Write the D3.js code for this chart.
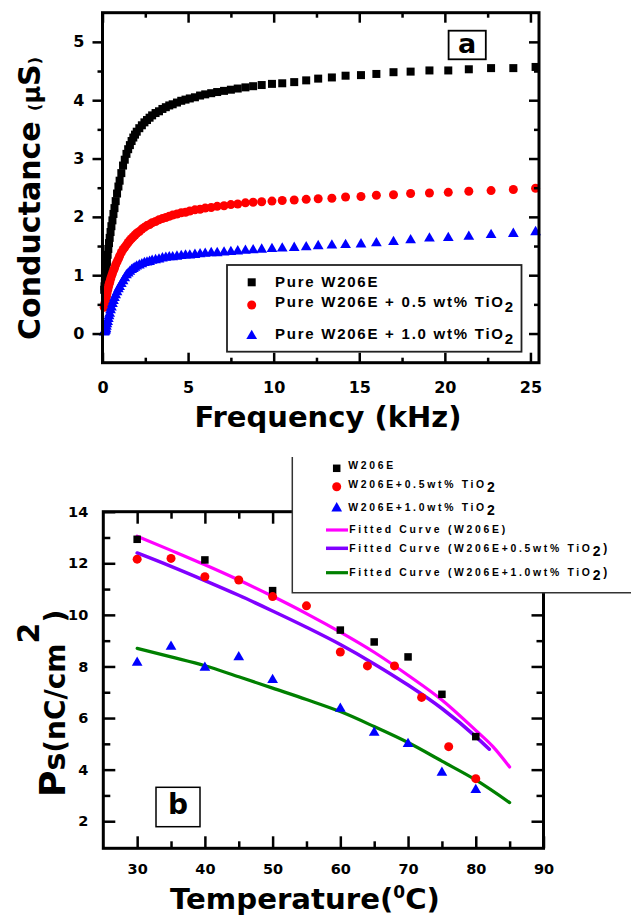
<!DOCTYPE html>
<html><head><meta charset="utf-8">
<script src="https://cdn.jsdelivr.net/npm/d3@7/dist/d3.min.js"></script>
<style>body{margin:0;background:#fff}svg{display:block}</style>
</head><body>
<svg id="c" width="631" height="917"></svg>
<script>
// ---------- DATA: panel a (conductance vs frequency) ----------
const freqKHz = [0.1,0.12,0.14,0.16,0.18,0.2,0.23,0.26,0.3,0.34,0.38,0.42,0.47,0.52,0.58,0.64,0.7,0.77,0.85,0.93,
  1.0,1.1,1.2,1.3,1.4,1.5,1.6,1.7,1.8,1.9,2.0,2.15,2.3,2.45,2.6,2.75,2.9,3.1,3.3,3.5,3.7,3.9,4.1,4.35,4.6,
  4.85,5.1,5.4,5.7,6.0,6.35,6.7,7.1,7.5,7.9,8.35,8.8,9.3,9.9,10.5,11.2,11.9,12.6,13.4,14.2,15.1,16.0,17.0,
  18.0,19.1,20.2,21.4,22.7,24.0,25.3];
const condPure = [0.75,0.81,0.87,0.93,0.99,1.05,1.14,1.23,1.35,1.45,1.55,1.64,1.74,1.84,1.94,2.05,2.15,2.27,2.4,2.52,
  2.62,2.75,2.88,2.98,3.08,3.16,3.23,3.3,3.36,3.41,3.46,3.52,3.57,3.62,3.66,3.7,3.74,3.78,3.81,3.85,3.88,3.91,3.93,3.96,3.99,
  4.01,4.03,4.05,4.08,4.1,4.12,4.14,4.16,4.18,4.2,4.22,4.24,4.26,4.28,4.29,4.31,4.34,4.37,4.39,4.42,4.43,4.45,4.48,
  4.49,4.51,4.51,4.53,4.55,4.55,4.57];
const condTi05 = [0.45,0.48,0.51,0.54,0.57,0.6,0.64,0.69,0.74,0.79,0.84,0.88,0.93,0.98,1.03,1.08,1.12,1.18,1.23,1.28,
  1.33,1.39,1.44,1.48,1.52,1.56,1.6,1.63,1.66,1.69,1.72,1.75,1.79,1.82,1.85,1.87,1.9,1.92,1.95,1.97,1.99,2.01,2.03,2.05,2.07,
  2.08,2.1,2.12,2.13,2.15,2.16,2.18,2.19,2.21,2.22,2.24,2.25,2.26,2.27,2.28,2.29,2.3,2.31,2.32,2.34,2.35,2.37,2.38,
  2.4,2.41,2.42,2.44,2.45,2.47,2.49];
const condTi10 = [0.02,0.03,0.04,0.05,0.06,0.08,0.12,0.16,0.2,0.25,0.3,0.34,0.4,0.45,0.51,0.56,0.61,0.66,0.71,0.76,
  0.8,0.85,0.9,0.95,1.0,1.03,1.06,1.09,1.11,1.13,1.15,1.17,1.19,1.21,1.22,1.23,1.25,1.26,1.27,1.29,1.3,1.31,1.31,1.32,1.33,
  1.34,1.34,1.35,1.36,1.37,1.38,1.38,1.39,1.4,1.41,1.42,1.43,1.44,1.45,1.46,1.47,1.48,1.5,1.51,1.52,1.53,1.55,1.57,
  1.6,1.63,1.64,1.66,1.69,1.71,1.74];
const freqTicks = [0,5,10,15,20,25];
const freqMinor = [2.5,7.5,12.5,17.5,22.5];
const condTicks = [0,1,2,3,4,5];
const condMinor = [0.5,1.5,2.5,3.5,4.5];
const legendA = ["Pure W206E","Pure W206E + 0.5 wt% TiO","Pure W206E + 1.0 wt% TiO"];

// ---------- DATA: panel b (Ps vs temperature) ----------
const tempW = [30,40,50,60,65,70,75,80];
const psW   = [12.93,12.13,10.94,9.41,8.95,8.37,6.92,5.28];
const tempT05 = [30,35,40,45,50,55,60,64,68,72,76,80];
const psT05   = [12.16,12.19,11.48,11.35,10.71,10.35,8.56,8.02,8.02,6.8,4.89,3.65];
const tempT10 = [30,35,40,45,50,60,65,70,75,80];
const psT10   = [8.15,8.77,7.95,8.36,7.48,6.36,5.43,5.0,3.88,3.21];
const fitTempW = [30,35,40,45,50,55,60,65,70,75,80,82.5,85];
const fitPsW   = [13.05,12.5,11.94,11.35,10.72,10.05,9.33,8.55,7.66,6.7,5.52,4.9,4.1];
const fitTempT05 = [30,35,40,45,50,55,60,65,70,75,80,82];
const fitPsT05   = [12.4,11.88,11.33,10.76,10.15,9.52,8.85,8.1,7.28,6.37,5.28,4.79];
const fitTempT10 = [30,35,40,45,50,55,60,65,70,75,80,85];
const fitPsT10   = [8.7,8.37,8.03,7.6,7.16,6.72,6.25,5.67,5.05,4.33,3.6,2.72];
const tempTicks = [30,40,50,60,70,80,90];
const tempMinor = [35,45,55,65,75,85];
const psTicks = [2,4,6,8,10,12,14];
const psMinor = [3,5,7,9,11,13];

// ---------- DRAW ----------
const FONT = "'DejaVu Sans', sans-serif";
const LFONT = "'Liberation Sans', Arial, sans-serif";
const svg = d3.select("#c");

function axis(gen, transform, fs) {
  const a = svg.append("g").attr("transform", transform).call(gen);
  a.select(".domain").remove();
  a.selectAll(".tick line").attr("stroke", "#000").attr("stroke-width", 2.5);
  a.selectAll(".tick text").attr("font-family", FONT).attr("font-weight", "bold")
    .attr("font-size", fs || 16).attr("fill", "#000");
  return a;
}
function marker(sel, type, size, color) {
  if (type === "square") {
    sel.append("rect").attr("x", -size/2).attr("y", -size/2).attr("width", size).attr("height", size).attr("fill", color);
  } else if (type === "circle") {
    sel.append("circle").attr("r", size/2).attr("fill", color);
  } else {
    sel.append("path").attr("d", d3.symbol(d3.symbolTriangle, size*size*0.5)()).attr("fill", color);
  }
}
function boldText(x, y, fs, fam) {
  return svg.append("text").attr("x", x).attr("y", y).attr("font-family", fam || FONT)
    .attr("font-weight", "bold").attr("font-size", fs).attr("fill", "#000");
}

// ===== Panel a =====
const xA = d3.scaleLinear().domain([0, 25.5]).range([102.5, 539]);
const yA = d3.scaleLinear().domain([-0.5, 5.5]).range([362.7, 12.7]);

const seriesA = [
  {vals: condPure, type: "square", size: 8, color: "#000"},
  {vals: condTi05, type: "circle", size: 9, color: "#ff0000"},
  {vals: condTi10, type: "triangle", size: 10, color: "#0000ff"}
];
seriesA.forEach(s => {
  svg.append("g").selectAll("g").data(freqKHz.map((f, i) => [f, s.vals[i]])).join("g")
    .attr("transform", d => `translate(${xA(d[0])},${yA(d[1])})`)
    .each(function() { marker(d3.select(this), s.type, s.size, s.color); });
});

axis(d3.axisBottom(xA).tickValues(freqTicks).tickSize(-10).tickPadding(19).tickFormat(d3.format("d")), "translate(0,362.7)", 16);
axis(d3.axisBottom(xA).tickValues(freqMinor).tickSize(-5).tickFormat(""), "translate(0,362.7)");
axis(d3.axisTop(xA).tickValues(freqTicks).tickSize(-10).tickFormat(""), "translate(0,12.7)");
axis(d3.axisTop(xA).tickValues(freqMinor).tickSize(-5).tickFormat(""), "translate(0,12.7)");
axis(d3.axisLeft(yA).tickValues(condTicks).tickSize(10).tickPadding(8).tickFormat(d3.format("d")), "translate(102.5,0)", 16);
axis(d3.axisLeft(yA).tickValues(condMinor).tickSize(5).tickFormat(""), "translate(102.5,0)");
axis(d3.axisRight(yA).tickValues(condTicks).tickSize(-10).tickFormat(""), "translate(539,0)");
axis(d3.axisRight(yA).tickValues(condMinor).tickSize(-5).tickFormat(""), "translate(539,0)");
svg.append("rect").attr("x", xA.range()[0]).attr("y", yA.range()[1])
  .attr("width", xA.range()[1]-xA.range()[0]).attr("height", yA.range()[0]-yA.range()[1])
  .attr("fill", "none").attr("stroke", "#000").attr("stroke-width", 3);

// legend a
svg.append("rect").attr("x", 227).attr("y", 265).attr("width", 294.5).attr("height", 86.7)
  .attr("fill", "#fff").attr("stroke", "#222").attr("stroke-width", 1.8);
const legAY = [282.3, 305, 336];
const legATextY = [287, 307, 339];
seriesA.forEach((s, i) => {
  const g = svg.append("g").attr("transform", `translate(251.7,${legAY[i]})`);
  marker(g, s.type, s.size, s.color);
  const t = boldText(275, legATextY[i], 15, LFONT).attr("letter-spacing", 1.75).text(legendA[i]);
  if (i > 0) t.append("tspan").attr("dy", 5).attr("font-size", 15).text("2");
});
// label a
svg.append("rect").attr("x", 448.6).attr("y", 30.7).attr("width", 37.2).attr("height", 28.6)
  .attr("fill", "#fff").attr("stroke", "#000").attr("stroke-width", 1.8);
boldText(467.2, 52.5, 27).attr("text-anchor", "middle").text("a");

// titles a
boldText(328, 427, 29).attr("text-anchor", "middle").text("Frequency (kHz)");
const yt = svg.append("text").attr("transform", "translate(40,340) rotate(-90)")
  .attr("font-family", FONT).attr("font-weight", "bold").attr("font-size", 30);
yt.append("tspan").text("Conductance ");
yt.append("tspan").attr("font-size", 16).text("(");
yt.append("tspan").attr("font-size", 24).text("μ");
yt.append("tspan").attr("font-size", 30).text("S");
yt.append("tspan").attr("font-size", 16).text(")");

// ===== Panel b =====
const xB = d3.scaleLinear().domain([25, 90]).range([103.3, 543.5]);
const yB = d3.scaleLinear().domain([0.95, 14]).range([848.3, 511.7]);

const line = d3.line().x(d => xB(d[0])).y(d => yB(d[1])).curve(d3.curveMonotoneX);
const fits = [
  {t: fitTempW, v: fitPsW, color: "#ff00ff", w: 3.2},
  {t: fitTempT05, v: fitPsT05, color: "#8000ff", w: 3.5},
  {t: fitTempT10, v: fitPsT10, color: "#008000", w: 3.2}
];
fits.forEach(f => {
  svg.append("path").attr("d", line(f.t.map((t, i) => [t, f.v[i]])))
    .attr("fill", "none").attr("stroke", f.color).attr("stroke-width", f.w).attr("stroke-linecap", "round");
});
const seriesB = [
  {t: tempW, v: psW, type: "square", size: 7.5, color: "#000"},
  {t: tempT05, v: psT05, type: "circle", size: 9, color: "#ff0000"},
  {t: tempT10, v: psT10, type: "triangle", size: 10, color: "#0000ff"}
];
seriesB.forEach(s => {
  svg.append("g").selectAll("g").data(s.t.map((t, i) => [t, s.v[i]])).join("g")
    .attr("transform", d => `translate(${xB(d[0])},${yB(d[1])})`)
    .each(function() { marker(d3.select(this), s.type, s.size, s.color); });
});

axis(d3.axisBottom(xB).tickValues(tempTicks).tickSize(-12).tickPadding(15).tickFormat(d3.format("d")), "translate(0,848.3)", 14.5);
axis(d3.axisBottom(xB).tickValues(tempMinor).tickSize(-7).tickFormat(""), "translate(0,848.3)");
axis(d3.axisTop(xB).tickValues(tempTicks).tickSize(-12).tickFormat(""), "translate(0,511.7)");
axis(d3.axisTop(xB).tickValues(tempMinor).tickSize(-7).tickFormat(""), "translate(0,511.7)");
axis(d3.axisLeft(yB).tickValues(psTicks).tickSize(-12).tickPadding(15).tickFormat(d3.format("d")), "translate(103.3,0)", 14.5);
axis(d3.axisLeft(yB).tickValues(psMinor).tickSize(-7).tickFormat(""), "translate(103.3,0)");
axis(d3.axisRight(yB).tickValues(psTicks).tickSize(-12).tickFormat(""), "translate(543.5,0)");
axis(d3.axisRight(yB).tickValues(psMinor).tickSize(-7).tickFormat(""), "translate(543.5,0)");
svg.append("rect").attr("x", xB.range()[0]).attr("y", yB.range()[1])
  .attr("width", xB.range()[1]-xB.range()[0]).attr("height", yB.range()[0]-yB.range()[1])
  .attr("fill", "none").attr("stroke", "#000").attr("stroke-width", 3);

// legend b (cropped box: only left and bottom edges visible)
svg.append("rect").attr("x", 292.3).attr("y", 452).attr("width", 345).attr("height", 140.7).attr("fill", "#fff");
svg.append("path").attr("d", "M292.3,457V592.7H631").attr("fill", "none").attr("stroke", "#333").attr("stroke-width", 1.5);
const legBMarkY = [468.3, 486.7, 508.3];
const legBTextY = [469.3, 488.3, 511];
const legBText = ["W206E", "W206E+0.5wt% TiO", "W206E+1.0wt% TiO"];
seriesB.forEach((s, i) => {
  const g = svg.append("g").attr("transform", `translate(336.7,${legBMarkY[i]})`);
  marker(g, s.type, s.size, s.color);
  const t = boldText(348.3, legBTextY[i], 10.4, LFONT).attr("letter-spacing", 2.7).text(legBText[i]);
  if (i > 0) t.append("tspan").attr("dy", 4).attr("font-size", 14).text("2");
});
const legBLineY = [530, 548.3, 572.7];
const legBLineText = [["Fitted Curve (W206E)", false], ["Fitted Curve (W206E+0.5wt% TiO", true], ["Fitted Curve (W206E+1.0wt% TiO", true]];
fits.forEach((f, i) => {
  svg.append("line").attr("x1", 326).attr("x2", 348).attr("y1", legBLineY[i]).attr("y2", legBLineY[i])
    .attr("stroke", f.color).attr("stroke-width", f.w);
  const t = boldText(349.3, legBLineY[i] + 3.3, 10.4, LFONT).attr("letter-spacing", 2.7).text(legBLineText[i][0]);
  if (legBLineText[i][1]) {
    t.append("tspan").attr("dy", 4).attr("font-size", 14).text("2");
    t.append("tspan").attr("dy", -4).attr("font-size", 12).text(")");
  }
});

// label b
svg.append("rect").attr("x", 156).attr("y", 787.3).attr("width", 44).attr("height", 39.4)
  .attr("fill", "#fff").attr("stroke", "#000").attr("stroke-width", 1.5);
boldText(178, 813.5, 28).attr("text-anchor", "middle").text("b");

// titles b
const xt = boldText(170, 908.5, 29.2);
xt.append("tspan").text("Temperature(");
xt.append("tspan").attr("font-size", 17).attr("dy", -11).text("0");
xt.append("tspan").attr("dy", 11).text("C)");

const yt2 = svg.append("text").attr("transform", "translate(65,797) rotate(-90)")
  .attr("font-family", FONT).attr("font-weight", "bold").attr("font-size", 28);
yt2.append("tspan").attr("font-size", 36).text("P");
yt2.append("tspan").attr("font-size", 30).text("s");
yt2.append("tspan").text("(nC/cm");
const L1 = yt2.node().getComputedTextLength();
const sup = svg.append("text").attr("transform", `translate(39,${797 - L1}) rotate(-90)`)
  .attr("font-family", FONT).attr("font-weight", "bold").attr("font-size", 30).text("2");
const L2 = sup.node().getComputedTextLength();
svg.append("text").attr("transform", `translate(65,${797 - L1 - L2}) rotate(-90)`)
  .attr("font-family", FONT).attr("font-weight", "bold").attr("font-size", 28).text(")");
</script>
</body></html>
